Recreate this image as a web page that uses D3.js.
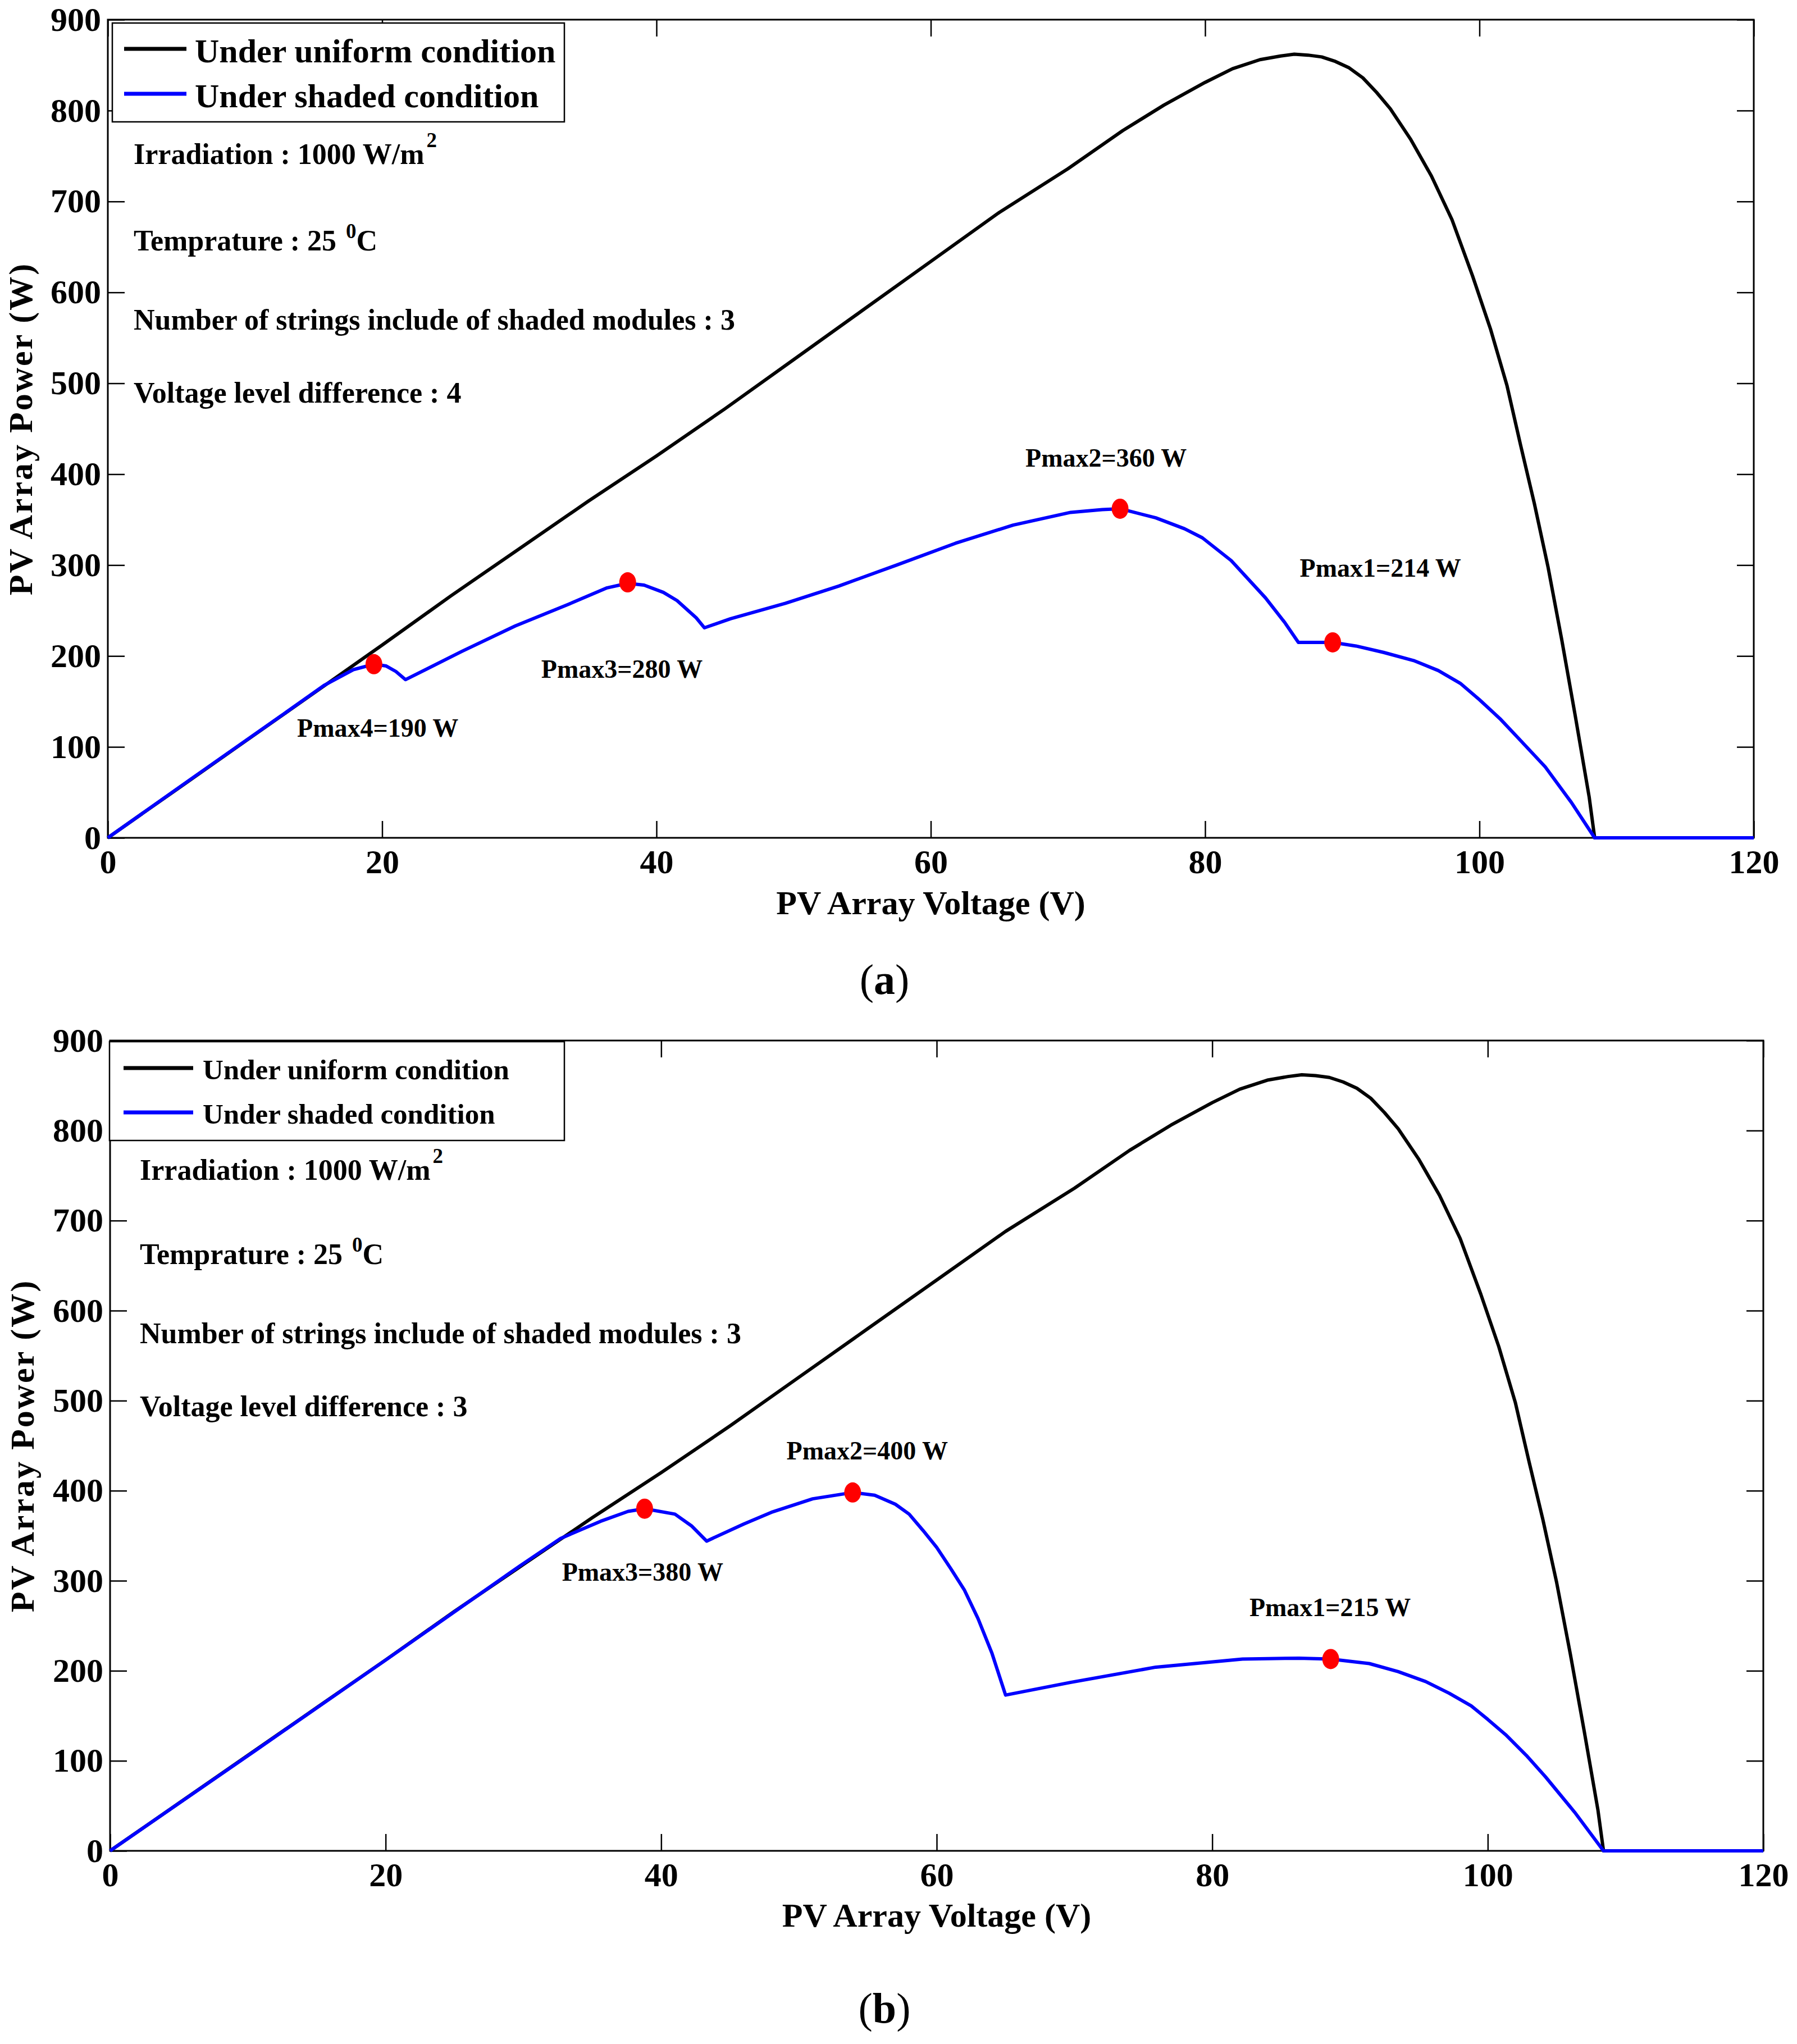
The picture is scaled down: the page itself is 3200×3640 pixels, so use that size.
<!DOCTYPE html>
<html>
<head>
<meta charset="utf-8">
<script src="https://cdn.jsdelivr.net/npm/d3@7"></script>
<style>
  body { margin: 0; background: #fff; }
  text { font-family: "Liberation Serif", "Times New Roman", serif; fill: #000; }
</style>
</head>
<body>
<div id="chart"></div>
<script>
// ---- data ----
var voltageTicks = [0, 20, 40, 60, 80, 100, 120];
var powerTicks = [0, 100, 200, 300, 400, 500, 600, 700, 800, 900];

// uniform condition (same curve in both panels)
var uniformV = [0, 5, 10, 15, 20, 25, 30, 35, 40, 45, 50, 55, 60, 65, 70, 74, 77, 80, 82, 84, 85.5, 86.5, 87.5, 88.5, 89.5, 90.5, 91.5, 92.5, 93.5, 95, 96.5, 98, 99.5, 100.8, 102, 103, 104, 105, 106, 107, 108, 108.4, 120];
var uniformP = [0, 53, 106, 159, 212, 266, 318, 370, 420, 472, 526, 580, 634, 688, 736, 778, 806, 831, 846, 856, 860, 862, 861, 859, 854, 847, 836, 820, 802, 768, 728, 680, 618, 560, 498, 432, 368, 298, 218, 133, 45, 0, 0];

// shaded condition, panel (a)
var shadedAV = [0, 6, 12.8, 15.8, 17.9, 19.4, 20.3, 21, 21.7, 25.8, 29.7, 33.6, 36.4, 37.9, 39.1, 40.5, 41.5, 42.9, 43.5, 45.4, 49.4, 53.3, 57.5, 61.8, 66, 70.2, 72.5, 73.8, 76.4, 78.5, 79.8, 81.9, 84.4, 85.8, 86.8, 89.3, 91, 93, 95.2, 97, 98.6, 100, 101.5, 103, 104.8, 106.7, 108.4, 120];
var shadedAP = [0, 64, 136, 168, 185, 191, 189, 183, 174, 205, 233, 257, 275, 280, 278, 270, 261, 242, 231, 241, 258, 277, 300, 324, 344, 358, 361, 362, 352, 340, 330, 305, 264, 237, 215, 215, 211, 204, 195, 184, 170, 152, 131, 107, 78, 39, 0, 0];

// shaded condition, panel (b)
var shadedBV = [0, 10.6, 20.2, 29.7, 32.7, 35.6, 37.6, 38.8, 41, 42.2, 43.3, 46, 48, 51, 53.9, 55.5, 57, 58, 59, 60, 61, 62, 63, 64, 65, 69.7, 75.9, 82.2, 86.3, 88.6, 91.4, 93.5, 95.5, 97.2, 98.8, 100, 101.3, 102.8, 104.2, 106.3, 108.4, 120];
var shadedBP = [0, 112, 214, 316, 347, 366, 377, 380, 374, 361, 344, 363, 376, 391, 398, 395, 385, 374, 356, 337, 314, 290, 258, 220, 173, 187, 204, 213, 214, 213, 208, 199, 188, 175, 161, 146, 129, 106, 82, 43, 0, 0];

// maximum power points
var peakAV = [19.4, 37.9, 73.8, 89.3];
var peakAP = [191, 281, 362, 215];
var peakALabels = ["Pmax4=190 W", "Pmax3=280 W", "Pmax2=360 W", "Pmax1=214 W"];
var peakBV = [38.8, 53.9, 88.6];
var peakBP = [380, 398, 213];
var peakBLabels = ["Pmax3=380 W", "Pmax2=400 W", "Pmax1=215 W"];

var legendLabels = ["Under uniform condition", "Under shaded condition"];
// [text, superscript, tail]
var infoA = [["Irradiation : 1000 W/m", "2", ""], ["Temprature : 25 ", "0", "C"],
             ["Number of strings include of shaded modules : 3", "", ""], ["Voltage level difference : 4", "", ""]];
var infoB = [["Irradiation : 1000 W/m", "2", ""], ["Temprature : 25 ", "0", "C"],
             ["Number of strings include of shaded modules : 3", "", ""], ["Voltage level difference : 3", "", ""]];

// ---- layout ----
var panels = [
  { left: 192, right: 3123, top: 35, bottom: 1492,
    shadedV: shadedAV, shadedP: shadedAP, peakV: peakAV, peakP: peakAP, peakLabels: peakALabels,
    labelPos: [[13.8, 111], [31.6, 176], [66.9, 408], [86.9, 287]],
    legend: { x: 200, y: 41, w: 805, h: 176, font: 60, rows: [87, 167], lx0: 221, lx1: 332, tx: 347 },
    info: infoA, infoX: 238, infoY: [292, 446, 587, 717],
    ylabX: 57, xlabY: 1628, caption: "a", capY: 1770 },
  { left: 196, right: 3140, top: 1853, bottom: 3296,
    shadedV: shadedBV, shadedP: shadedBP, peakV: peakBV, peakP: peakBP, peakLabels: peakBLabels,
    labelPos: [[32.8, 300], [49.1, 435], [82.7, 261]],
    legend: { x: 195, y: 1855, w: 810, h: 176, font: 51, rows: [1902, 1981], lx0: 220, lx1: 344, tx: 361 },
    info: infoB, infoX: 249, infoY: [2101, 2251, 2392, 2522],
    ylabX: 60, xlabY: 3431, caption: "b", capY: 3602 }
];

var svg = d3.select("#chart").append("svg")
  .attr("width", 3200)
  .attr("height", 3640);

svg.append("rect").attr("width", 3200).attr("height", 3640).attr("fill", "#fff");

panels.forEach(function(p) {
  var x = d3.scaleLinear().domain([0, 120]).range([p.left, p.right]);
  var y = d3.scaleLinear().domain([0, 900]).range([p.bottom, p.top]);
  var g = svg.append("g").style("font-weight", "bold");

  // axes, ticks pointing inward on all four sides
  var ax = g.append("g").attr("transform", `translate(0,${p.bottom})`)
    .call(d3.axisBottom(x).tickValues(voltageTicks).tickSizeInner(-30).tickSizeOuter(0).tickPadding(20));
  var axTop = g.append("g").attr("transform", `translate(0,${p.top})`)
    .call(d3.axisTop(x).tickValues(voltageTicks).tickSizeInner(-30).tickSizeOuter(0).tickFormat(""));
  var ay = g.append("g").attr("transform", `translate(${p.left},0)`)
    .call(d3.axisLeft(y).tickValues(powerTicks).tickSizeInner(-30).tickSizeOuter(0).tickPadding(12));
  var ayRight = g.append("g").attr("transform", `translate(${p.right},0)`)
    .call(d3.axisRight(y).tickValues(powerTicks).tickSizeInner(-30).tickSizeOuter(0).tickFormat(""));

  [ax, axTop, ay, ayRight].forEach(function(a) {
    a.select(".domain").remove();
    a.attr("font-family", null);
    a.selectAll(".tick line").attr("stroke", "#000").attr("stroke-width", 2.5);
    a.selectAll(".tick text").attr("font-size", 60);
  });

  g.append("rect")
    .attr("x", p.left).attr("y", p.top)
    .attr("width", p.right - p.left).attr("height", p.bottom - p.top)
    .attr("fill", "none").attr("stroke", "#000").attr("stroke-width", 3);

  var line = d3.line().x(d => x(d[0])).y(d => y(d[1]));

  g.append("path")
    .datum(uniformV.map((v, i) => [v, uniformP[i]]))
    .attr("d", line).attr("fill", "none")
    .attr("stroke", "#000").attr("stroke-width", 6).attr("stroke-linejoin", "round");

  g.append("path")
    .datum(p.shadedV.map((v, i) => [v, p.shadedP[i]]))
    .attr("d", line).attr("fill", "none")
    .attr("stroke", "#0000ff").attr("stroke-width", 6).attr("stroke-linejoin", "round");

  // maximum power points
  g.append("g").selectAll("ellipse")
    .data(p.peakV.map((v, i) => [v, p.peakP[i]]))
    .enter().append("ellipse")
      .attr("cx", d => x(d[0])).attr("cy", d => y(d[1]))
      .attr("rx", 15).attr("ry", 18)
      .attr("fill", "#ff0000");

  g.append("g").selectAll("text")
    .data(p.peakLabels)
    .enter().append("text")
      .attr("x", (d, i) => x(p.labelPos[i][0]))
      .attr("y", (d, i) => y(p.labelPos[i][1]))
      .attr("font-size", 46)
      .text(d => d);

  // condition notes
  p.info.forEach(function(row, i) {
    var t = g.append("text").attr("x", p.infoX).attr("y", p.infoY[i]).attr("font-size", 52);
    t.append("tspan").text(row[0]);
    if (row[1]) {
      var raise = row[2] ? 22 : 30;
      t.append("tspan").attr("dy", -raise).attr("dx", 4).attr("font-size", 37).text(row[1]);
      if (row[2]) t.append("tspan").attr("dy", raise).text(row[2]);
    }
  });

  // legend
  var lg = p.legend;
  g.append("rect")
    .attr("x", lg.x).attr("y", lg.y).attr("width", lg.w).attr("height", lg.h)
    .attr("fill", "#fff").attr("stroke", "#000").attr("stroke-width", 2.5);
  ["#000", "#0000ff"].forEach(function(c, i) {
    g.append("line")
      .attr("x1", lg.lx0).attr("x2", lg.lx1)
      .attr("y1", lg.rows[i]).attr("y2", lg.rows[i])
      .attr("stroke", c).attr("stroke-width", 7);
    g.append("text")
      .attr("x", lg.tx).attr("y", lg.rows[i] + lg.font * 0.4)
      .attr("font-size", lg.font)
      .text(legendLabels[i]);
  });

  // axis titles
  g.append("text")
    .attr("x", (p.left + p.right) / 2).attr("y", p.xlabY)
    .attr("text-anchor", "middle").attr("font-size", 60)
    .text("PV Array Voltage (V)");

  g.append("text")
    .attr("transform", `translate(${p.ylabX},${(p.top + p.bottom) / 2}) rotate(-90)`)
    .attr("text-anchor", "middle").attr("font-size", 60)
    .attr("letter-spacing", 3)
    .text("PV Array Power (W)");

  // panel caption: plain parentheses, bold letter
  var cap = svg.append("text")
    .attr("x", 1575).attr("y", p.capY)
    .attr("text-anchor", "middle").attr("font-size", 76)
    .style("font-weight", "normal");
  cap.append("tspan").text("(");
  cap.append("tspan").style("font-weight", "bold").text(p.caption);
  cap.append("tspan").text(")");
});
</script>
</body>
</html>
